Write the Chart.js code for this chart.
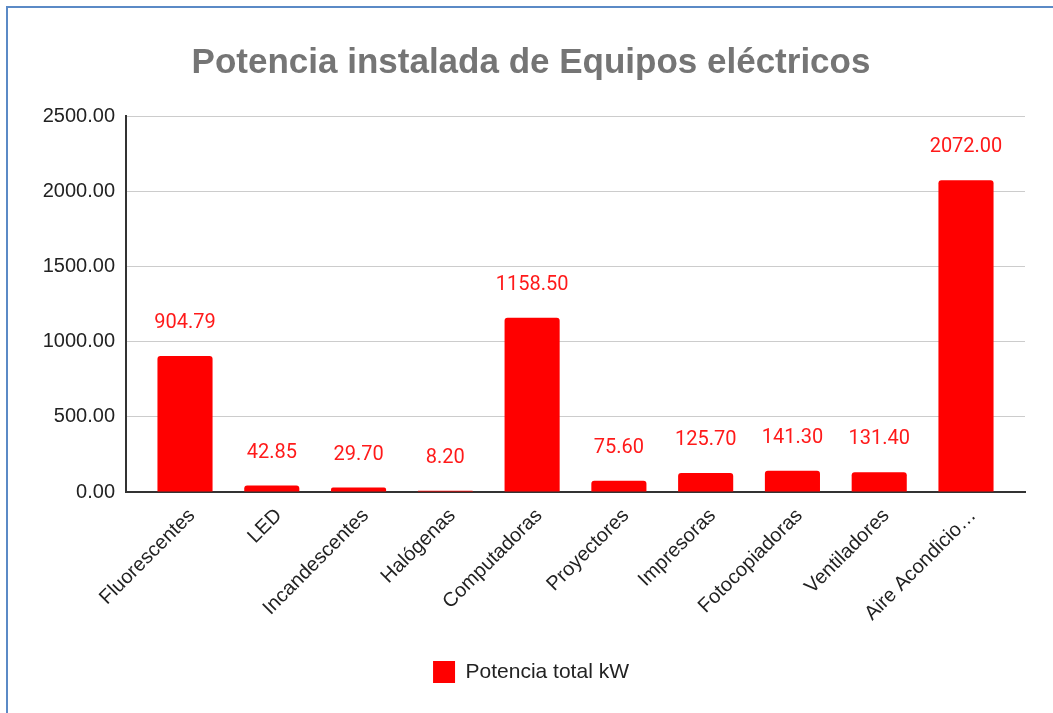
<!DOCTYPE html>
<html>
<head>
<meta charset="utf-8">
<script src="https://cdn.jsdelivr.net/npm/chart.js@4.4.1/dist/chart.umd.min.js"></script>
<style>
  html, body { margin: 0; padding: 0; background: #fff; overflow: hidden; }
  #frame {
    position: absolute; left: 6px; top: 6px; width: 1200px; height: 800px;
    border-left: 2px solid #5b8ac6; border-top: 2px solid #5b8ac6;
  }
  #wrap { position: absolute; left: 0; top: 0; width: 1053px; height: 713px; }
</style>
</head>
<body>
<div id="frame"></div>
<div id="wrap"><canvas id="potenciaChart" width="1053" height="713"></canvas></div>
<script>
const categories = ["Fluorescentes", "LED", "Incandescentes", "Halógenas", "Computadoras",
  "Proyectores", "Impresoras", "Fotocopiadoras", "Ventiladores", "Aire Acondicio…"];
const potenciaKW = [904.79, 42.85, 29.70, 8.20, 1158.50, 75.60, 125.70, 141.30, 131.40, 2072.00];
const yTicks = [0, 500, 1000, 1500, 2000, 2500];

// extra room on both ends of the category axis, like the sheets chart
const sidePad = 0.18;
const widenCategories = {
  id: "widenCategories",
  afterLayout(chart) {
    const x = chart.scales.x;
    x._startValue = -0.5 - sidePad;
    x._valueRange = categories.length + 2 * sidePad;
  }
};

// value labels above each bar
const barLabels = {
  id: "barLabels",
  afterDatasetsDraw(chart) {
    const { ctx } = chart;
    const meta = chart.getDatasetMeta(0);
    ctx.save();
    ctx.font = "20px Roboto";
    ctx.fillStyle = "#ff1a1a";
    ctx.textAlign = "center";
    ctx.textBaseline = "middle";
    meta.data.forEach((bar, i) => {
      ctx.fillText(potenciaKW[i].toFixed(2), bar.x, bar.y - 33);
    });
    ctx.restore();
  }
};

new Chart(document.getElementById("potenciaChart"), {
  type: "bar",
  data: {
    labels: categories,
    datasets: [{
      label: "Potencia total kW",
      data: potenciaKW,
      backgroundColor: "#ff0000",
      borderRadius: 3,
      categoryPercentage: 1,
      barPercentage: 0.635
    }]
  },
  options: {
    responsive: false,
    animation: false,
    layout: { padding: { left: 37, right: 28, top: 0, bottom: 20 } },
    scales: {
      x: {
        grid: { display: false, drawTicks: false },
        border: { display: true, color: "#333", width: 2 },
        ticks: {
          color: "#222",
          font: { family: "Liberation Sans", size: 20 },
          minRotation: 45,
          maxRotation: 45,
          autoSkip: false,
          padding: 12,
          labelOffset: 7
        },
        afterFit: (scale) => { scale.height = 159; }
      },
      y: {
        min: 0,
        max: 2500,
        afterBuildTicks: (scale) => { scale.ticks = yTicks.map(v => ({ value: v })); },
        grid: { color: "#cccccc", lineWidth: 1, drawTicks: false },
        border: { display: true, color: "#333", width: 2 },
        ticks: {
          color: "#222",
          font: { family: "Liberation Sans", size: 20 },
          padding: 11,
          callback: (val) => Number(val).toFixed(2)
        },
        afterFit: (scale) => { scale.width = 89; }
      }
    },
    plugins: {
      title: {
        display: true,
        text: "Potencia instalada de Equipos eléctricos",
        color: "#757575",
        font: { family: "Liberation Sans", size: 35, weight: "bold", lineHeight: 1.2 },
        padding: { top: 42, bottom: 32 }
      },
      legend: {
        position: "bottom",
        labels: {
          color: "#222",
          font: { family: "Liberation Sans", size: 21 },
          boxWidth: 22,
          boxHeight: 22,
          padding: 10
        }
      },
      tooltip: { enabled: false }
    }
  },
  plugins: [widenCategories, barLabels]
});
</script>
</body>
</html>
